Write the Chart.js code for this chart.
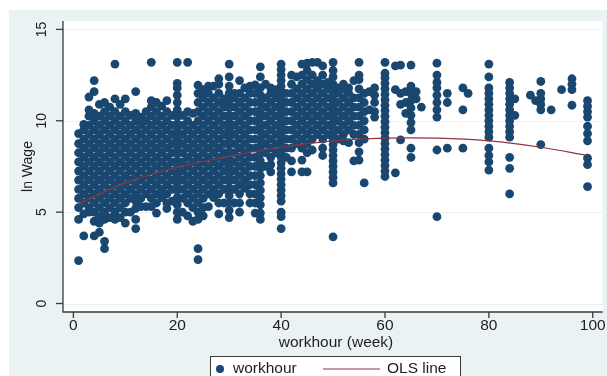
<!DOCTYPE html>
<html>
<head>
<meta charset="utf-8">
<script src="https://cdn.jsdelivr.net/npm/chart.js@4.4.1/dist/chart.umd.min.js"></script>
<style>
  html, body { margin: 0; padding: 0; background: #fff; }
  canvas { display: block; }
</style>
</head>
<body>
<canvas id="chart" width="607" height="376"></canvas>
<script>
// hours worked per week, one column of observed ln wage values per hour
const hourCols = [1, 2, 3, 4, 5, 6, 7, 8, 9, 10, 11, 12, 13, 14, 15, 16, 17, 18, 19, 20,
  21, 22, 23, 24, 25, 26, 27, 28, 29, 30, 31, 32, 33, 34, 35, 36, 37, 38, 39, 40,
  41, 42, 43, 44, 45, 46, 47, 48, 49, 50, 51, 52, 53, 54, 55, 56, 57, 58, 60, 62,
  63, 64, 65, 66, 67, 70, 72, 75, 76, 80, 84, 85, 88, 89, 90, 92, 94, 96, 99];

const wageCols = [
  [2.35, 4.6, 5.25, 5.75, 6.25, 6.75, 7.25, 7.75, 8.25, 8.75, 9.3],
  [3.7, 4.9, 5.5, 6, 6.5, 7, 7.5, 8, 8.5, 9, 9.5, 9.8],
  [5.0, 5.25, 5.75, 6.25, 6.75, 7.25, 7.75, 8.25, 8.75, 9.25, 9.75, 10.25, 10.6, 11.3],
  [3.7, 4.5, 5.0, 5.5, 6, 6.5, 7, 7.5, 8, 8.5, 9, 9.5, 10, 10.4, 11.6, 12.2],
  [3.9, 4.4, 4.75, 5.25, 5.75, 6.25, 6.75, 7.25, 7.75, 8.25, 8.75, 9.25, 9.75, 10.25, 10.9],
  [3.0, 3.4, 4.6, 5.0, 5.5, 6, 6.5, 7, 7.5, 8, 8.5, 9, 9.5, 10, 10.5, 11.0],
  [4.7, 5.25, 5.75, 6.25, 6.75, 7.25, 7.75, 8.25, 8.75, 9.25, 9.75, 10.25, 10.75],
  [4.6, 5.0, 5.5, 6, 6.5, 7, 7.5, 8, 8.5, 9, 9.5, 10, 10.5, 11.2, 13.1],
  [4.7, 5.25, 5.75, 6.25, 6.75, 7.25, 7.75, 8.25, 8.75, 9.25, 9.75, 10.25, 10.9],
  [4.4, 5.0, 5.5, 6, 6.5, 7, 7.5, 8, 8.5, 9, 9.5, 10, 10.5, 11.2],
  [5.0, 5.75, 6.25, 6.75, 7.25, 7.75, 8.25, 8.75, 9.25, 9.75, 10.3],
  [4.1, 4.6, 5.2, 5.6, 6, 6.5, 7, 7.5, 8, 8.5, 9, 9.5, 10, 10.4, 11.6],
  [5.3, 5.75, 6.25, 6.75, 7.25, 7.75, 8.25, 8.75, 9.25, 9.75, 10.2],
  [5.3, 6, 6.5, 7, 7.5, 8, 8.5, 9, 9.5, 10, 10.5],
  [5.3, 5.75, 6.25, 6.75, 7.25, 7.75, 8.25, 8.75, 9.25, 9.75, 10.25, 10.75, 11.1, 13.2],
  [4.95, 5.5, 6, 6.5, 7, 7.5, 8, 8.5, 9, 9.5, 10, 10.5, 11.0],
  [5.8, 6.25, 6.75, 7.25, 7.75, 8.25, 8.75, 9.25, 9.75, 10.25, 10.8],
  [5.2, 5.5, 6, 6.5, 7, 7.5, 8, 8.5, 9, 9.5, 10, 10.5, 11.1],
  [5.6, 6.25, 6.75, 7.25, 7.75, 8.25, 8.75, 9.25, 9.75, 10.3],
  [4.6, 5.0, 5.4, 5.8, 6.2, 6.6, 7, 7.4, 7.8, 8.2, 8.6, 9, 9.4, 9.8, 10.2, 10.6, 11, 11.4, 11.8, 12.05, 13.2],
  [5.0, 5.75, 6.25, 6.75, 7.25, 7.75, 8.25, 8.75, 9.25, 9.75, 10.3],
  [4.8, 5.5, 6, 6.5, 7, 7.5, 8, 8.5, 9, 9.5, 10, 10.5, 13.2],
  [4.5, 5.25, 5.75, 6.25, 6.75, 7.25, 7.75, 8.25, 8.75, 9.25, 9.75, 10.4],
  [2.4, 3.0, 4.6, 5.0, 5.5, 6, 6.5, 7, 7.5, 8, 8.5, 9, 9.5, 10, 10.5, 11, 11.5, 11.95],
  [4.8, 5.25, 5.75, 6.25, 6.75, 7.25, 7.75, 8.25, 8.75, 9.25, 9.75, 10.25, 10.75, 11.25, 11.7],
  [5.3, 6, 6.5, 7, 7.5, 8, 8.5, 9, 9.5, 10, 10.5, 11, 11.5, 11.9],
  [5.8, 6.25, 6.75, 7.25, 7.75, 8.25, 8.75, 9.25, 9.75, 10.25, 10.75, 11.25, 11.9],
  [4.9, 5.5, 6, 6.5, 7, 7.5, 8, 8.5, 9, 9.5, 10, 10.5, 11, 11.5, 12.0, 12.3],
  [5.5, 6.25, 6.75, 7.25, 7.75, 8.25, 8.75, 9.25, 9.75, 10.25, 10.75, 11.2],
  [4.7, 5.1, 5.5, 5.9, 6.3, 6.7, 7.1, 7.5, 7.9, 8.3, 8.7, 9.1, 9.5, 9.9, 10.3, 10.7, 11.1, 11.5, 11.9, 12.4, 13.1],
  [5.5, 6.25, 6.75, 7.25, 7.75, 8.25, 8.75, 9.25, 9.75, 10.25, 10.75, 11.25, 11.5],
  [5.0, 5.5, 6, 6.5, 7, 7.5, 8, 8.5, 9, 9.5, 10, 10.5, 11, 11.5, 12.2],
  [6.3, 6.75, 7.25, 7.75, 8.25, 8.75, 9.25, 9.75, 10.25, 10.75, 11.25, 11.8],
  [5.5, 6, 6.5, 7, 7.5, 8, 8.5, 9, 9.5, 10, 10.5, 11, 11.5, 11.9],
  [4.95, 5.5, 6, 6.5, 7, 7.5, 8, 8.5, 9, 9.5, 10, 10.5, 11, 11.5, 11.96],
  [4.6, 4.95, 5.4, 5.8, 6.2, 6.6, 7, 7.4, 7.8, 8.2, 8.6, 9, 9.4, 9.8, 10.2, 10.6, 11, 11.4, 11.8, 12.4, 12.95],
  [7.5, 8.25, 8.75, 9.25, 9.75, 10.25, 10.75, 11.25, 12.0],
  [7.2, 7.6, 8, 8.5, 9, 9.5, 10, 10.5, 11, 11.5, 11.8],
  [8.25, 8.75, 9.25, 9.75, 10.25, 10.75, 11.25, 11.7],
  [4.1, 4.75, 5.0, 5.6, 5.9, 6.2, 6.5, 6.8, 7.1, 7.4, 7.7, 8.0, 8.3, 8.6, 8.9, 9.2, 9.5, 9.8, 10.1, 10.4, 10.7, 11.0, 11.3, 11.6, 11.9, 12.2, 12.5, 12.8, 13.1],
  [8.0, 8.5, 9, 9.5, 10, 10.5, 11, 11.5],
  [7.2, 7.8, 8.5, 9, 9.5, 10, 10.5, 11, 11.5, 12, 12.5],
  [8.75, 9.25, 9.75, 10.25, 10.75, 11.25, 11.75, 12.4],
  [7.2, 7.85, 8.5, 9, 9.5, 10, 10.5, 11, 11.5, 12, 12.5, 13.1],
  [7.2, 8.25, 8.75, 9.25, 9.75, 10.25, 10.75, 11.25, 11.75, 12.25, 12.75, 13.15],
  [8.4, 9, 9.5, 10, 10.5, 11, 11.5, 12, 12.5, 13.2],
  [9.25, 9.75, 10.25, 10.75, 11.25, 11.75, 12.2, 13.2],
  [8.1, 8.5, 9, 9.5, 10, 10.5, 11, 11.5, 12, 12.5, 13.0],
  [9.25, 9.75, 10.25, 10.75, 11.25, 11.75, 12.1],
  [3.65, 6.6, 6.9, 7.2, 7.5, 7.8, 8.1, 8.4, 8.7, 9.0, 9.3, 9.6, 9.9, 10.2, 10.5, 10.8, 11.1, 11.4, 11.7, 12.0, 12.4, 12.75, 13.2],
  [9.0, 9.5, 10, 10.5, 11, 11.5, 11.8],
  [8.9, 9.25, 9.75, 10.25, 10.75, 11.25, 11.75, 12.0],
  [8.8, 9.5, 10, 10.5, 11, 11.5, 11.8],
  [7.8, 9.25, 9.75, 10.25, 10.75, 11.25, 12.2],
  [7.85, 8.3, 8.8, 9.25, 9.75, 10.25, 10.75, 11.25, 11.75, 12.25, 12.5, 13.2],
  [6.6, 9.0, 9.5, 10, 10.5, 11, 11.5],
  [10.6, 11.6],
  [10.2, 10.5, 11.0, 11.4, 11.8],
  [6.95, 7.25, 7.55, 7.85, 8.15, 8.45, 8.75, 9.05, 9.35, 9.65, 9.95, 10.25, 10.55, 10.85, 11.15, 11.45, 11.75, 12.05, 12.35, 12.6, 13.2],
  [7.15, 11.7, 13.0],
  [8.95, 10.9, 11.5, 13.05],
  [10.4, 11.0, 11.6],
  [8.0, 8.5, 9.5, 9.9, 10.3, 10.7, 11.1, 11.5, 11.9, 13.05],
  [11.2, 11.6],
  [10.75],
  [4.75, 8.4, 10.2, 10.6, 11.0, 11.4, 11.8, 12.1, 12.5, 13.15],
  [8.5, 11.0, 11.5],
  [8.5, 10.6, 11.8],
  [11.5],
  [7.3, 7.75, 8.1, 8.5, 9.1, 9.4, 9.7, 10.0, 10.3, 10.6, 10.9, 11.2, 11.5, 11.8, 12.4, 13.1],
  [6.0, 7.4, 8.0, 9.1, 9.4, 9.7, 10.0, 10.3, 10.6, 10.9, 11.2, 11.5, 11.8, 12.1],
  [10.3, 11.2],
  [11.4],
  [11.1],
  [8.7, 10.6, 10.9, 11.2, 11.5, 12.15],
  [10.6],
  [11.7],
  [10.85, 11.7, 12.0, 12.3],
  [6.4, 7.6, 7.95, 8.9, 9.3, 9.7, 10.2, 10.5, 10.8, 11.1]
];

// OLS (quadratic) fitted line
const fitHours = [1, 10, 20, 30, 40, 50, 60, 70, 80, 90, 99];
const fitWage = [5.45, 6.6, 7.45, 8.05, 8.55, 8.9, 9.05, 9.05, 8.9, 8.55, 8.1];

const xTicks = [0, 20, 40, 60, 80, 100];
const yTicks = [0, 5, 10, 15];

const NAVY = '#1a476f';
const MAROON = '#90353b';
const BG = '#eaf2f3';
const INK = '#1e1e1e';

const scatterPts = [];
hourCols.forEach((h, i) => wageCols[i].forEach(w => scatterPts.push({ x: h, y: w })));
const fitPts = fitHours.map((h, i) => ({ x: h, y: fitWage[i] }));

const stataFrame = {
  id: 'stataFrame',
  beforeDraw(chart) {
    const { ctx, chartArea: a } = chart;
    ctx.save();
    ctx.fillStyle = '#fff';
    ctx.fillRect(0, 0, chart.width, chart.height);
    ctx.fillStyle = BG;
    ctx.fillRect(9, 10, chart.width - 9, chart.height - 10);
    ctx.fillStyle = '#fff';
    ctx.fillRect(a.left, a.top, a.right - a.left, a.bottom - a.top);
    ctx.restore();
  },
  beforeDatasetsDraw(chart) {
    const { ctx, chartArea: a, scales } = chart;
    ctx.save();
    ctx.strokeStyle = BG;
    ctx.lineWidth = 1;
    yTicks.forEach(v => {
      const y = Math.round(scales.y.getPixelForValue(v)) + 0.5;
      ctx.beginPath(); ctx.moveTo(a.left, y); ctx.lineTo(a.right, y); ctx.stroke();
    });
    ctx.restore();
  },
  afterDraw(chart) {
    const { ctx, chartArea: a, scales } = chart;
    ctx.save();
    ctx.strokeStyle = '#3a3a3a';
    ctx.lineWidth = 1.3;
    // axes
    ctx.beginPath();
    ctx.moveTo(a.left, a.top); ctx.lineTo(a.left, a.bottom); ctx.lineTo(a.right, a.bottom);
    ctx.stroke();
    ctx.fillStyle = INK;
    // y ticks + labels (rotated)
    ctx.font = '14px "Liberation Sans", Arial, sans-serif';
    ctx.textAlign = 'center';
    ctx.textBaseline = 'middle';
    yTicks.forEach(v => {
      const y = scales.y.getPixelForValue(v);
      ctx.beginPath(); ctx.moveTo(a.left - 7, y); ctx.lineTo(a.left, y); ctx.stroke();
      ctx.save();
      ctx.translate(42, y);
      ctx.rotate(-Math.PI / 2);
      ctx.fillText(String(v), 0, 0);
      ctx.restore();
    });
    ctx.save();
    ctx.translate(28, (a.top + a.bottom) / 2);
    ctx.rotate(-Math.PI / 2);
    ctx.fillText('ln Wage', 0, 0);
    ctx.restore();
    // x ticks + labels
    ctx.font = '15.5px "Liberation Sans", Arial, sans-serif';
    xTicks.forEach(v => {
      const x = scales.x.getPixelForValue(v);
      ctx.beginPath(); ctx.moveTo(x, a.bottom); ctx.lineTo(x, a.bottom + 6); ctx.stroke();
      ctx.fillText(String(v), x, 326);
    });
    ctx.fillText('workhour (week)', 336, 343);
    // legend
    ctx.fillStyle = '#fff';
    ctx.fillRect(210, 356, 250, 30);
    ctx.strokeStyle = '#3a3a3a';
    ctx.lineWidth = 1;
    ctx.strokeRect(210.5, 356.5, 250, 30);
    ctx.fillStyle = NAVY;
    ctx.beginPath(); ctx.arc(220, 369, 4, 0, Math.PI * 2); ctx.fill();
    ctx.fillStyle = INK;
    ctx.textAlign = 'left';
    ctx.fillText('workhour', 233, 369);
    ctx.strokeStyle = MAROON;
    ctx.lineWidth = 1.2;
    ctx.beginPath(); ctx.moveTo(323, 369); ctx.lineTo(380, 369); ctx.stroke();
    ctx.fillText('OLS line', 387, 369);
    ctx.restore();
  }
};

new Chart(document.getElementById('chart'), {
  type: 'scatter',
  data: {
    datasets: [
      {
        type: 'line',
        label: 'OLS line',
        data: fitPts,
        borderColor: MAROON,
        borderWidth: 1.2,
        pointRadius: 0,
        tension: 0.4,
        fill: false
      },
      {
        label: 'workhour',
        data: scatterPts,
        backgroundColor: NAVY,
        borderWidth: 0,
        pointRadius: 4.4,
        pointHoverRadius: 4.4
      }
    ]
  },
  options: {
    responsive: false,
    animation: false,
    layout: { padding: { left: 63, top: 21, right: 0, bottom: 64 } },
    scales: {
      x: { type: 'linear', min: -2, max: 101.9, display: false },
      y: { type: 'linear', min: -0.465, max: 15.46, display: false }
    },
    plugins: { legend: { display: false }, tooltip: { enabled: false } }
  },
  plugins: [stataFrame]
});
</script>
</body>
</html>
